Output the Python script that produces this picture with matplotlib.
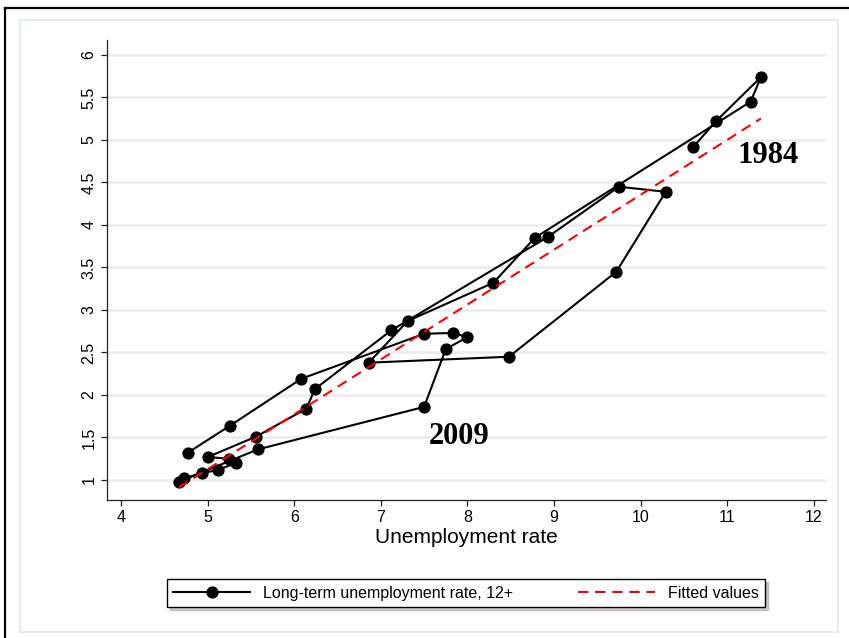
import matplotlib
matplotlib.use("Agg")
import matplotlib.pyplot as plt
import numpy as np
from matplotlib.patches import Rectangle
from matplotlib.lines import Line2D

plt.rcParams['font.family'] = ['Liberation Sans', 'DejaVu Sans']

# points in the order they are connected (1984 ... end of series)
unemp = [10.61, 10.87, 11.39, 11.27, 8.78, 8.30, 7.31, 6.86, 8.48, 9.72,
         10.29, 9.75, 8.93, 7.12, 6.24, 6.14, 5.56, 5.00, 5.25, 5.33,
         5.12, 4.94, 4.73, 4.67, 5.58, 7.50, 7.75, 8.00, 7.83, 7.50,
         6.08, 5.26, 4.77]
ltu = [4.92, 5.22, 5.74, 5.45, 3.85, 3.32, 2.87, 2.38, 2.45, 3.45,
       4.39, 4.45, 3.86, 2.76, 2.07, 1.84, 1.51, 1.27, 1.25, 1.20,
       1.12, 1.08, 1.02, 0.98, 1.36, 1.86, 2.54, 2.68, 2.73, 2.72,
       2.19, 1.64, 1.32]

x_ticks = [4, 5, 6, 7, 8, 9, 10, 11, 12]
y_ticks = [1, 1.5, 2, 2.5, 3, 3.5, 4, 4.5, 5, 5.5, 6]
y_tick_labels = ['1', '1.5', '2', '2.5', '3', '3.5', '4', '4.5', '5', '5.5', '6']

W, H = 849, 638
fig = plt.figure(figsize=(W / 100, H / 100), dpi=100)
ax = fig.add_axes([107 / W, 1 - 500 / H, (826 - 107) / W, (500 - 40) / H])

ax.plot(unemp, ltu, color='black', lw=1.5, marker='o', ms=7.8,
        label='Long-term unemployment rate, 12+', zorder=3)

slope, icpt = np.polyfit(unemp, ltu, 1)
xf = np.array([min(unemp), max(unemp)])
ax.plot(xf, icpt + slope * xf, color='red', lw=1.5, ls=(0, (5, 3.2)),
        label='Fitted values', zorder=4)

ax.set_xlim(3.838, 12.141)
ax.set_ylim(0.7647, 6.176)
ax.set_xticks(x_ticks)
ax.set_yticks(y_ticks)
ax.set_yticklabels(y_tick_labels, rotation=90, va='center')
ax.grid(axis='y', color='#e6eef1', lw=1.8)
ax.set_axisbelow(True)
for s in ['top', 'right']:
    ax.spines[s].set_visible(False)
for s in ['left', 'bottom']:
    ax.spines[s].set_color('#222222')
    ax.spines[s].set_linewidth(0.9)
ax.tick_params(length=4.5, width=0.9, labelsize=11.5, pad=3, color='#222222')
ax.set_xlabel('Unemployment rate', fontsize=15, labelpad=2)

ax.text(7.91, 1.51, '2009', fontsize=22, fontweight='bold',
        family='Liberation Serif', ha='center', va='center')
ax.text(11.47, 4.82, '1984', fontsize=22, fontweight='bold',
        family='Liberation Serif', ha='center', va='center')

fig.legend(loc='lower left', bbox_to_anchor=(167 / W, 1 - 607 / H, 598 / W, 41 / H),
           mode='expand', ncol=2, fontsize=11.5, handlelength=4.8,
           frameon=True, fancybox=False, edgecolor='black', borderaxespad=0,
           shadow={'color': '#999999'})

# graph region borders
fig.patches.append(Rectangle((20 / W, 1 - 632 / H), 818 / W, 612 / H,
                             transform=fig.transFigure, fill=False,
                             ec='#dde7ea', lw=1.2))
# outer frame (only top and left edges fall inside the picture)
fig.add_artist(Line2D([5 / W, 1.0], [1 - 8 / H, 1 - 8 / H],
                      transform=fig.transFigure, color='black', lw=1.6))
fig.add_artist(Line2D([5 / W, 5 / W], [0.0, 1 - 8 / H],
                      transform=fig.transFigure, color='black', lw=1.6))

fig.savefig('out.png', dpi=100)
